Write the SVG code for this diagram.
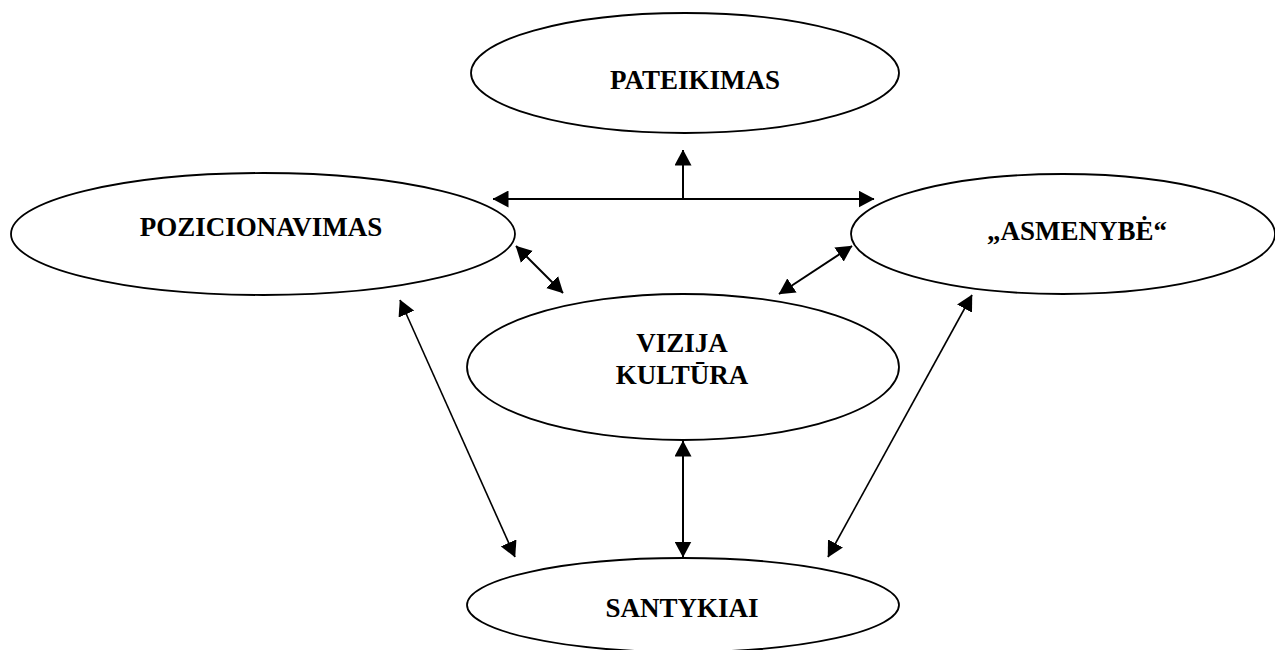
<svg xmlns="http://www.w3.org/2000/svg" width="1275" height="650" viewBox="0 0 1275 650">
  <style>
    .node ellipse { fill: #ffffff; stroke: #000000; stroke-width: 1.8; }
    .node text { font-family: "Liberation Serif", "Times New Roman", serif; font-weight: bold; font-size: 27px; fill: #000000; text-anchor: middle; }
    .conn line { stroke: #000000; stroke-width: 2; fill: none; }
    .conn line.thin { stroke-width: 1.6; }
  </style>
  <defs>
    <marker id="ah" viewBox="0 0 16 17" markerWidth="16" markerHeight="17" refX="15.5" refY="8.5" orient="auto-start-reverse" markerUnits="userSpaceOnUse">
      <path d="M0,0 L16,8.5 L0,17 Z" fill="#000000"/>
    </marker>
  </defs>
  <rect width="1275" height="650" fill="#ffffff"/>

  <g id="node-pateikimas" class="node">
    <ellipse cx="685" cy="73" rx="214" ry="60"/>
    <text x="695" y="89">PATEIKIMAS</text>
  </g>
  <g id="node-pozicionavimas" class="node">
    <ellipse cx="263" cy="234" rx="252" ry="61"/>
    <text x="261" y="236">POZICIONAVIMAS</text>
  </g>
  <g id="node-asmenybe" class="node">
    <ellipse cx="1063" cy="234" rx="212" ry="60"/>
    <text x="1077" y="240">„ASMENYBĖ“</text>
  </g>
  <g id="node-vizija" class="node">
    <ellipse cx="683" cy="367" rx="216" ry="73"/>
    <text x="682" y="352">VIZIJA</text>
    <text x="682" y="384">KULTŪRA</text>
  </g>
  <g id="node-santykiai" class="node">
    <ellipse cx="683" cy="605" rx="216" ry="47"/>
    <text x="682" y="617">SANTYKIAI</text>
  </g>

  <g id="connectors" class="conn">
    <line x1="493" y1="199" x2="874" y2="199" marker-start="url(#ah)" marker-end="url(#ah)"/>
    <line x1="683" y1="199" x2="683" y2="150" marker-end="url(#ah)"/>
    <line x1="516" y1="246" x2="563" y2="293" marker-start="url(#ah)" marker-end="url(#ah)"/>
    <line x1="852" y1="246" x2="779" y2="294" marker-start="url(#ah)" marker-end="url(#ah)"/>
    <line class="thin" x1="400" y1="300" x2="515" y2="557" marker-start="url(#ah)" marker-end="url(#ah)"/>
    <line class="thin" x1="972" y1="295" x2="828" y2="557" marker-start="url(#ah)" marker-end="url(#ah)"/>
    <line x1="683" y1="441" x2="683" y2="557" marker-start="url(#ah)" marker-end="url(#ah)"/>
  </g>
</svg>
